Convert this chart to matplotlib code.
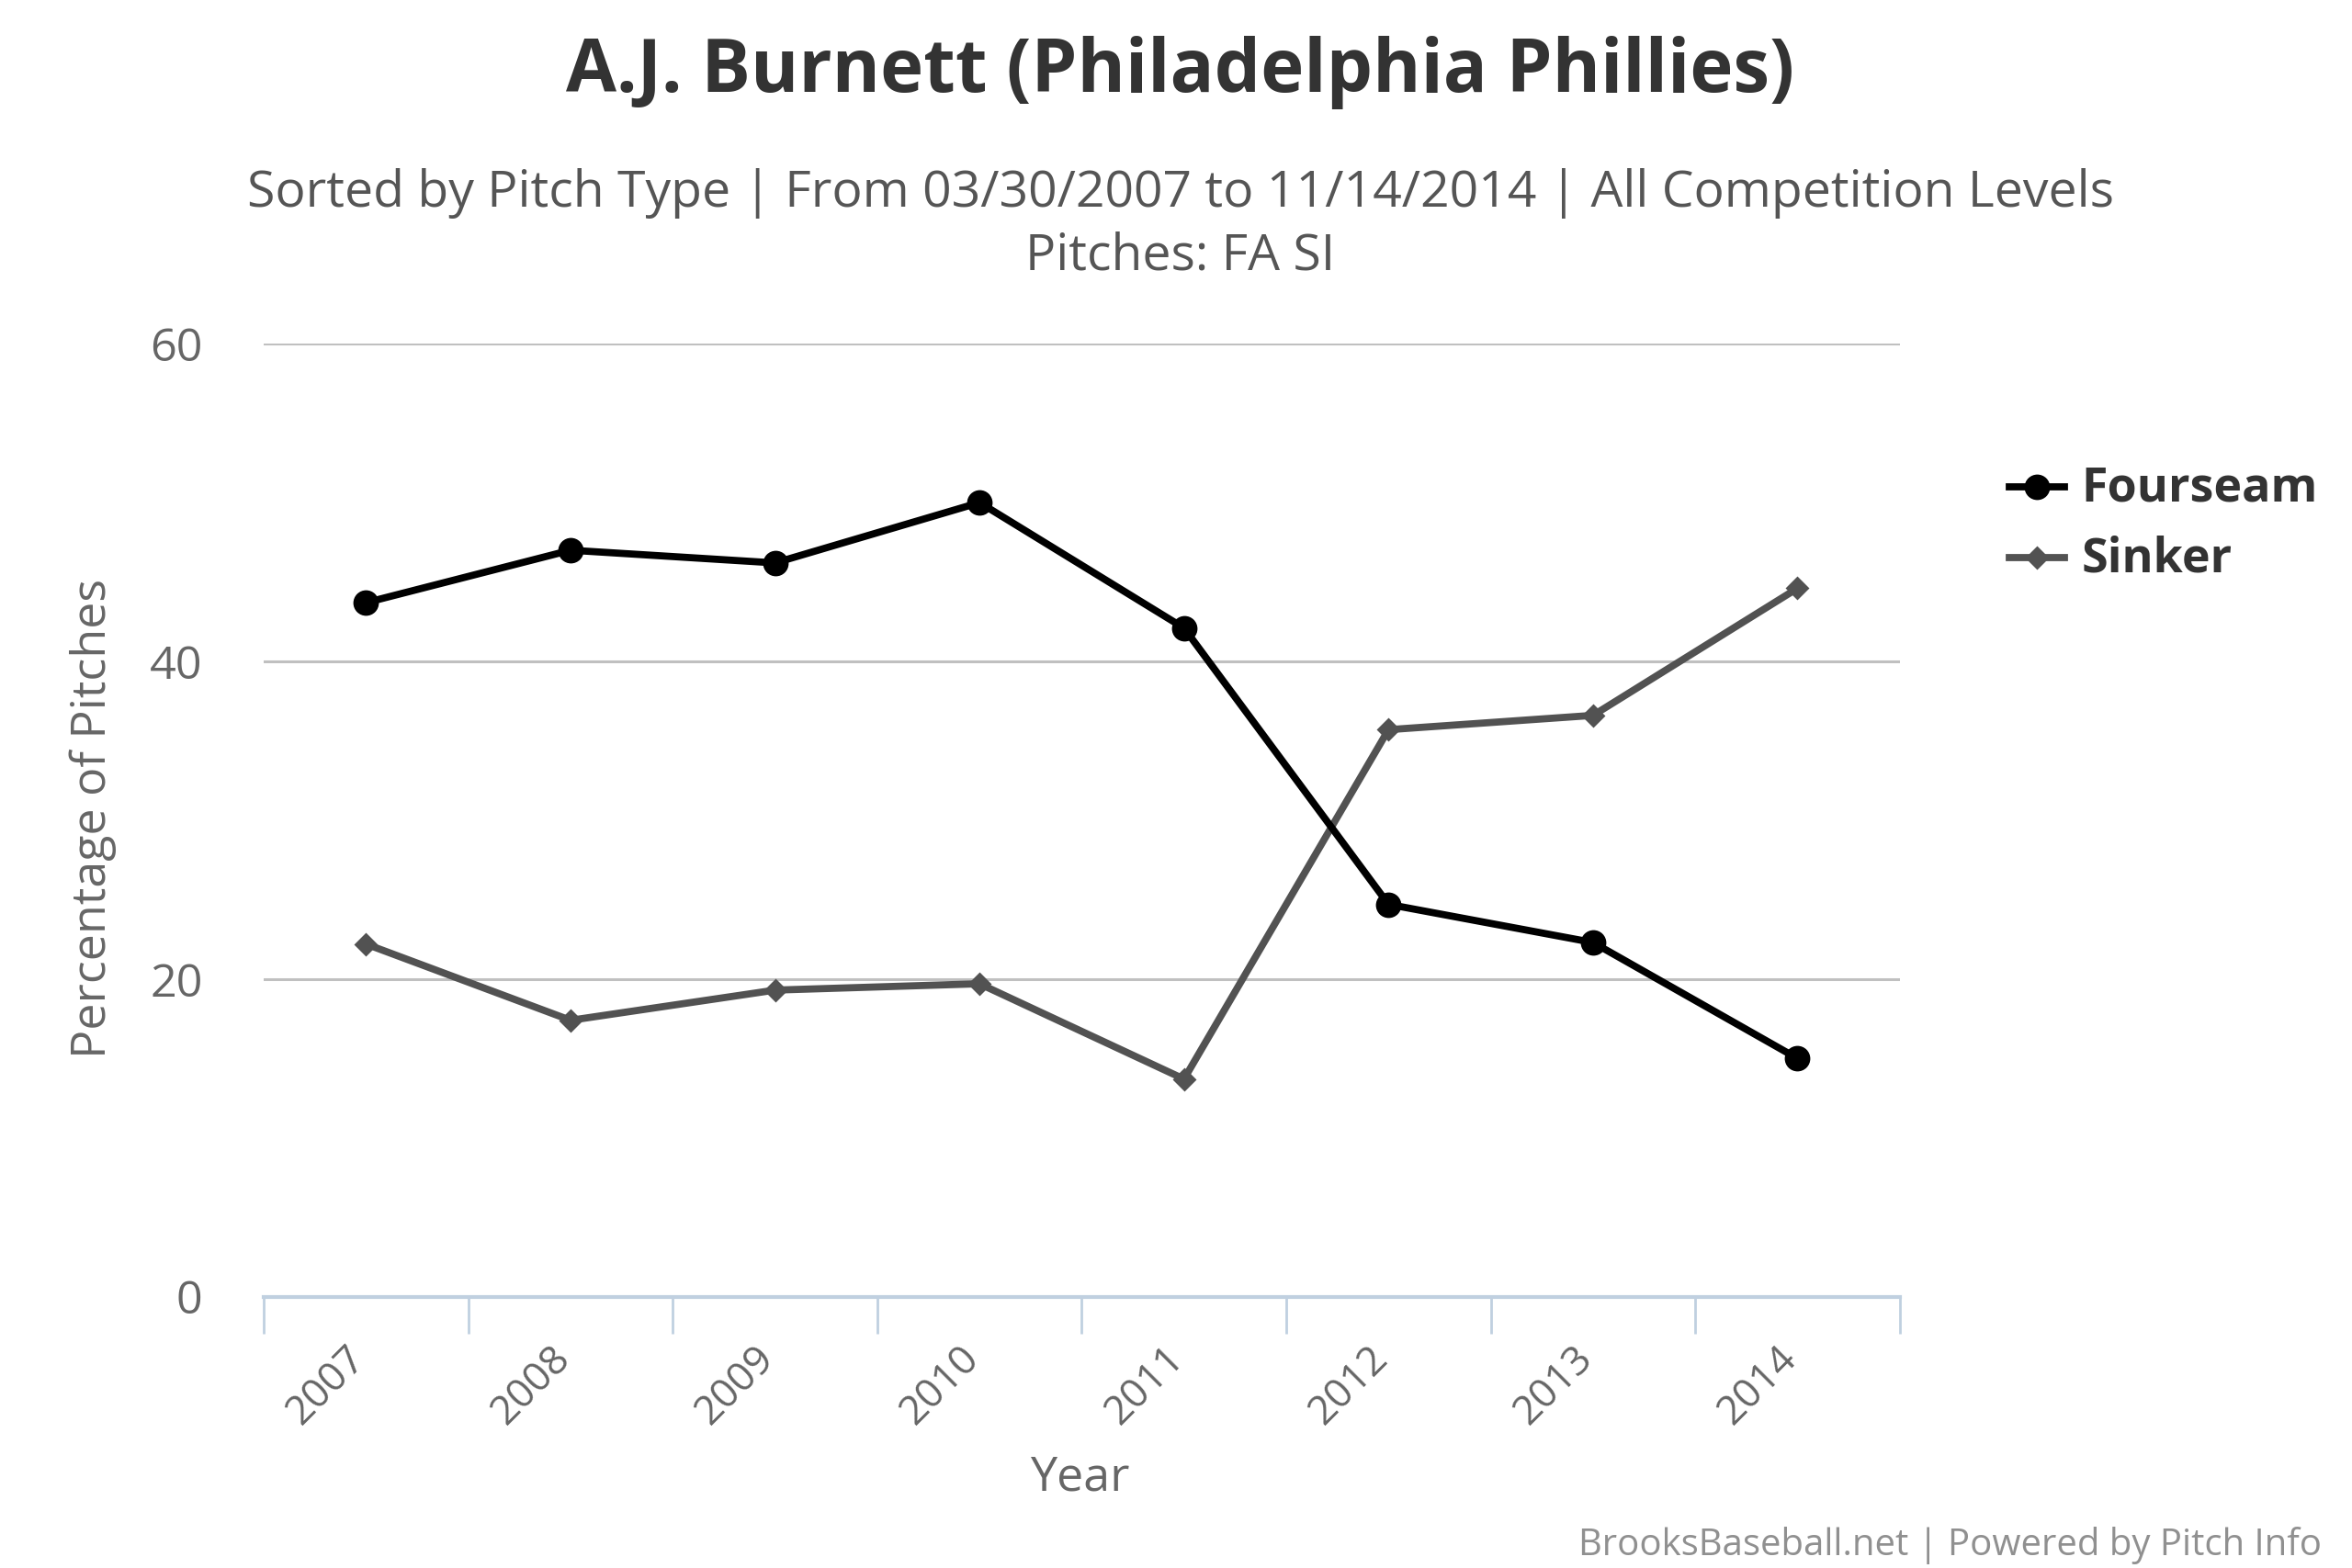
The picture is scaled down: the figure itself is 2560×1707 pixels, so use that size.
import matplotlib
matplotlib.use("Agg")
import matplotlib.pyplot as plt
from matplotlib.ticker import FixedLocator, NullFormatter
from matplotlib.transforms import ScaledTranslation

# ---- data ----
years = ["2007", "2008", "2009", "2010", "2011", "2012", "2013", "2014"]
fourseam = [43.7, 47.0, 46.2, 50.0, 42.1, 24.7, 22.3, 15.0]
sinker = [22.2, 17.4, 19.3, 19.7, 13.7, 35.7, 36.6, 44.6]
series_names = ["Fourseam", "Sinker"]
y_ticks = [0, 20, 40, 60]

title = "A.J. Burnett (Philadelphia Phillies)"
subtitle1 = "Sorted by Pitch Type | From 03/30/2007 to 11/14/2014 | All Competition Levels"
subtitle2 = "Pitches: FA SI"
credits = "BrooksBaseball.net | Powered by Pitch Info"

plt.rcParams["font.family"] = ["Open Sans", "DejaVu Sans"]

W, H = 2560, 1707
fig = plt.figure(figsize=(12.8, 8.535), dpi=200)
S = W / 1560.0  # reference display -> pixel


def fx(x):
    return x / 1560.0


def fy(y):
    return 1 - y / 1040.0


ax = fig.add_axes([fx(175), fy(860), fx(1260) - fx(175), fy(228) - fy(860)])

x = list(range(len(years)))
ax.plot(x, fourseam, color="#000000", lw=2.8, marker="o", ms=9.0,
        label=series_names[0], zorder=4, solid_joinstyle="round")
ax.plot(x, sinker, color="#525252", lw=2.8, marker="D", ms=5.5,
        label=series_names[1], zorder=3, solid_joinstyle="round")

ax.set_xlim(-0.5, len(years) - 0.5)
ax.set_ylim(0, 60)
ax.set_yticks(y_ticks)
ax.set_yticklabels([str(v) for v in y_ticks])
ax.tick_params(axis="y", length=0, pad=24, labelcolor="#666666", labelsize=17)
ax.grid(axis="y", color="#C0C0C0", lw=1.1, zorder=0)
ax.set_axisbelow(True)

ax.set_xticks(x)
ax.set_xticklabels(years, rotation=45, ha="right", va="center", rotation_mode="anchor")
ax.tick_params(axis="x", which="major", length=0, pad=22, labelcolor="#666666", labelsize=17)
ax.xaxis.set_minor_locator(FixedLocator([i - 0.5 for i in range(len(years) + 1)]))
ax.xaxis.set_minor_formatter(NullFormatter())
ax.tick_params(axis="x", which="minor", length=14.5, width=1.0, color="#C0D0E0")

for s in ["top", "right", "left"]:
    ax.spines[s].set_visible(False)
ax.spines["bottom"].set_color("#C0D0E0")
ax.spines["bottom"].set_linewidth(1.5)

ax.set_ylabel("Percentage of Pitches", color="#666666", fontsize=18)
ax.yaxis.label.set_va("center")
ax.yaxis.set_label_coords((62 - 175) / 1085.0, (860 - 543) / 632.0)
ax.set_xlabel("Year", color="#666666", fontsize=18)
ax.xaxis.label.set_va("center")
ax.xaxis.set_label_coords((716 - 175) / 1085.0, (860 - 980) / 632.0)

t_title = fig.text(fx(783), fy(48), title, ha="center", va="center",
                   fontsize=24, fontweight="bold", color="#333333")
t_sub1 = fig.text(fx(783), fy(128), subtitle1, ha="center", va="center",
                  fontsize=16, color="#555555")
t_sub2 = fig.text(fx(783), fy(170), subtitle2, ha="center", va="center",
                  fontsize=16, color="#555555")
t_cred = fig.text(fx(1540), fy(1025), credits, ha="right", va="center",
                  fontsize=12, color="#909090")

leg = ax.legend(loc="center left", bbox_to_anchor=(fx(1333), fy(347.5)),
                bbox_transform=fig.transFigure, frameon=False, borderpad=0,
                borderaxespad=0, handlelength=1.35, handletextpad=0.4,
                labelspacing=0.55, prop={"weight": "bold", "size": 16})
for t in leg.get_texts():
    t.set_color("#333333")

# fit text sizes to measured reference widths
fig.canvas.draw()
r = fig.canvas.get_renderer()


def fit(t, target, use_height=False):
    bb = t.get_window_extent(r)
    cur = bb.height if use_height else bb.width
    t.set_fontsize(t.get_fontsize() * target / cur)


fit(t_title, 814 * S)
fit(t_sub1, 1240 * S)
t_sub2.set_fontsize(t_sub1.get_fontsize())
fit(t_cred, 495 * S)
fit(ax.yaxis.label, 318 * S, use_height=True)
ax.xaxis.label.set_fontsize(ax.yaxis.label.get_fontsize())
ylab60 = ax.get_yticklabels()[-1]
w60 = ylab60.get_window_extent(r).width
ts = 17 * 35 * S / w60
ax.tick_params(axis="y", which="major", labelsize=ts)
ax.tick_params(axis="x", which="major", labelsize=ts * 0.88)
shift = ScaledTranslation(-4 * S / 200.0, 0, fig.dpi_scale_trans)
for lab in ax.get_xticklabels():
    lab.set_transform(lab.get_transform() + shift)
lt = leg.get_texts()[0]
lw = lt.get_window_extent(r).width
for t in leg.get_texts():
    t.set_fontsize(16 * 157 * S / lw)

fig.savefig("out.png", dpi=200, facecolor="white")
